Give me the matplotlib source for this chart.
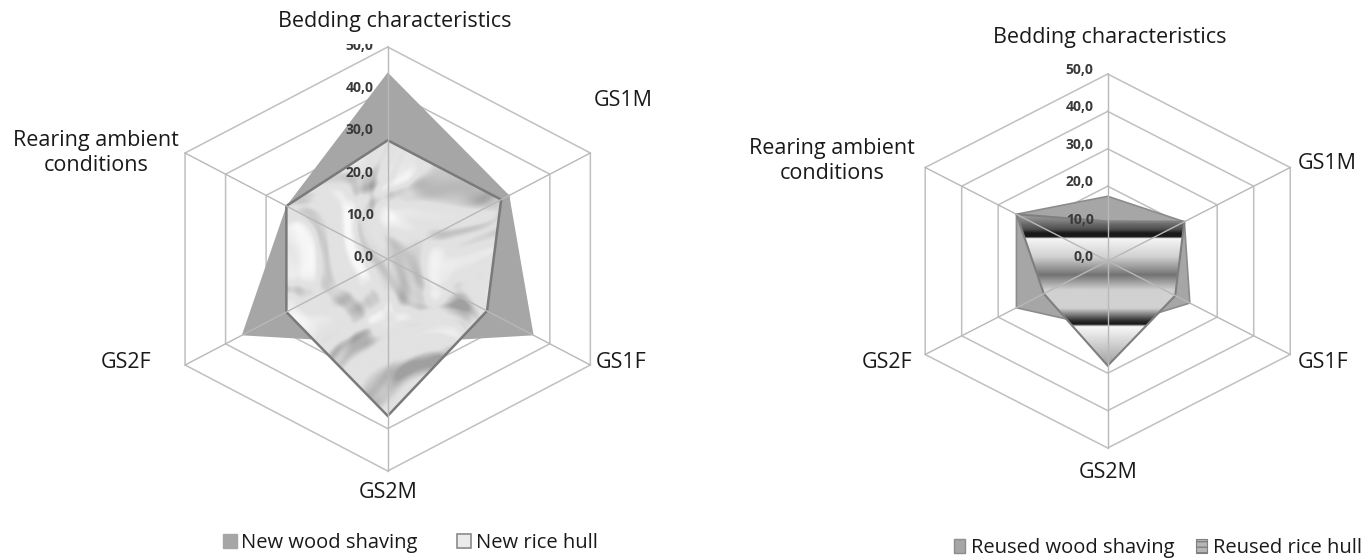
import numpy as np
import matplotlib
matplotlib.use("Agg")
import matplotlib.pyplot as plt
from matplotlib.patches import Polygon, Patch
from matplotlib.transforms import offset_copy

# ---------------- data ----------------
categories = ["Bedding characteristics", "GS1M", "GS1F", "GS2M", "GS2F",
              "Rearing ambient\nconditions"]
new_wood_shaving = [44.0, 30.0, 36.0, 20.0, 36.0, 25.0]
new_rice_hull = [28.0, 28.0, 24.5, 37.0, 25.0, 25.0]
reused_wood_shaving = [17.3, 21.0, 22.5, 18.0, 25.0, 25.0]
reused_rice_hull = [10.6, 21.0, 18.5, 28.0, 17.5, 25.0]
ring_values = [10, 20, 30, 40, 50]
tick_values = [0, 10, 20, 30, 40, 50]
tick_labels = ["0,0", "10,0", "20,0", "30,0", "40,0", "50,0"]
legend_left = ["New wood shaving", "New rice hull"]
legend_right = ["Reused wood shaving", "Reused rice hull"]

plt.rcParams["font.family"] = ["Open Sans", "DejaVu Sans"]

W, H = 1372, 560
fig = plt.figure(figsize=(W / 100, H / 100), dpi=100)

theta = np.deg2rad(np.arange(len(categories)) * 60.0)


def px(x, y):
    return x / W, 1 - y / H


def xy(vals):
    v = np.asarray(vals, dtype=float)
    return v * np.sin(theta), v * np.cos(theta)


def add_radar_axes(cx, cy, kx, ky, xr, ytop, ybot):
    left = cx - xr * kx
    width = 2 * xr * kx
    top = cy - ytop * ky
    bottom = cy + ybot * ky
    ax = fig.add_axes([left / W, 1 - bottom / H, width / W, (bottom - top) / H])
    ax.axis("off")
    return ax, (xr, ytop, ybot)


def draw_grid(ax):
    for r in ring_values:
        x, y = xy([r] * 6)
        ax.plot(np.append(x, x[0]), np.append(y, y[0]), color="#C0C0C0",
                lw=1.1, zorder=1, solid_joinstyle="miter")


def draw_spokes(ax):
    x, y = xy([50] * 6)
    for xi, yi in zip(x, y):
        ax.plot([0, xi], [0, yi], color="#B8B8B8", lw=1.0, zorder=6)


def draw_ticks(ax, dy):
    tr = offset_copy(ax.transData, fig=fig, x=-14, y=dy, units="dots")
    for v, lbl in zip(tick_values, tick_labels):
        t = ax.text(0, v, lbl, transform=tr, ha="right", va="center",
                    fontsize=10, fontweight="bold", color="#3A3A3A", zorder=8)
        t.set_clip_on(True)


def finish(ax, lims):
    xr, ytop, ybot = lims
    ax.set_xlim(-xr, xr)
    ax.set_ylim(-ybot, ytop)


def wave_sum(gx, gy, waves):
    out = np.zeros_like(gx)
    for kx_, ky_, ph, amp in waves:
        out += amp * np.sin(kx_ * gx + ky_ * gy + ph)
    return out


# ---------------- left chart ----------------
axL, limL = add_radar_axes(387.7, 259.0, 4.68, 4.24, 62, 50.6, 62)
draw_grid(axL)
x, y = xy(new_wood_shaving)
axL.fill(x, y, color="#A6A6A6", lw=0, zorder=2)

x, y = xy(new_rice_hull)
rice_poly = Polygon(np.column_stack([x, y]), closed=True, fill=False,
                    edgecolor="#7A7A7A", lw=1.8, zorder=5, joinstyle="miter")
axL.add_patch(rice_poly)
# deterministic cloudy marble texture via domain-warped wave sums
gx, gy = np.meshgrid(np.linspace(-50, 50, 600), np.linspace(-50, 50, 600))
warp_a = [(0.093, 0.141, 0.4, 1.0), (-0.177, 0.061, 2.1, 0.7), (0.231, -0.197, 4.0, 0.4)]
warp_b = [(0.133, -0.087, 1.3, 1.0), (0.071, 0.213, 3.3, 0.7), (-0.259, 0.171, 5.1, 0.4)]
wx = gx + 5.0 * wave_sum(gx, gy, warp_a)
wy = gy + 5.0 * wave_sum(gx, gy, warp_b)
detail = [(0.29, 0.17, 0.2, 1.0), (-0.13, 0.37, 1.9, 0.9), (0.47, -0.31, 3.7, 0.6),
          (0.61, 0.53, 0.8, 0.45), (-0.79, 0.43, 4.4, 0.35), (1.03, -0.67, 2.6, 0.25),
          (1.37, 1.11, 5.6, 0.15)]
n = wave_sum(wx, wy, detail)
n = (n - n.min()) / (n.max() - n.min())
cloud = np.clip((n - 0.5) / 0.35, 0, 1) ** 1.2
light = np.clip((0.35 - n) / 0.3, 0, 1)
tex = 0.885 - 0.26 * cloud + 0.09 * light
im = axL.imshow(tex, extent=[-50, 50, -50, 50], origin="lower", cmap="gray",
                vmin=0, vmax=1, aspect="auto", interpolation="bicubic", zorder=3)
im.set_clip_path(rice_poly)
draw_spokes(axL)
draw_ticks(axL, 1.5)
finish(axL, limL)

# ---------------- right chart ----------------
axR, limR = add_radar_axes(1107.7, 261.0, 4.215, 3.74, 62, 55, 62)
draw_grid(axR)
x, y = xy(reused_wood_shaving)
axR.fill(x, y, facecolor="#A6A6A6", edgecolor="#8C8C8C", lw=1.2, zorder=2)

x, y = xy(reused_rice_hull)
rr_poly = Polygon(np.column_stack([x, y]), closed=True, fill=False,
                  edgecolor="#7F7F7F", lw=1.5, zorder=5, joinstyle="miter")
axR.add_patch(rr_poly)
ymin, ymax = y.min(), y.max()
stops = [(0.00, 0.65), (0.10, 0.30), (0.125, 0.10), (0.15, 0.10), (0.16, 0.96),
         (0.28, 0.82), (0.40, 0.45), (0.50, 0.82), (0.62, 0.82), (0.70, 0.20),
         (0.725, 0.08), (0.74, 0.97), (1.00, 0.62)]
N = 600
frac_top = 1 - np.linspace(0, 1, N)
grad = np.interp(frac_top, [s[0] for s in stops], [s[1] for s in stops])
gimg = np.tile(grad[:, None], (1, 4))
im2 = axR.imshow(gimg, extent=[-50, 50, ymin, ymax], origin="lower", cmap="gray",
                 vmin=0, vmax=1, aspect="auto", interpolation="bilinear", zorder=3)
im2.set_clip_path(rr_poly)
draw_spokes(axR)
draw_ticks(axR, 4)
finish(axR, limR)

# ---------------- category labels ----------------
fs = 15.5
txt = dict(fontsize=fs, color="#1A1A1A")
# left chart
fig.text(*px(395, 21), categories[0], ha="center", va="center", **txt)
fig.text(*px(594, 100), categories[1], ha="left", va="center", **txt)
fig.text(*px(596, 362), categories[2], ha="left", va="center", **txt)
fig.text(*px(388, 492), categories[3], ha="center", va="center", **txt)
fig.text(*px(151, 362), categories[4], ha="right", va="center", **txt)
fig.text(*px(96, 153), categories[5], ha="center", va="center",
         linespacing=1.25, **txt)
# right chart
fig.text(*px(1110, 37), categories[0], ha="center", va="center", **txt)
fig.text(*px(1298, 163), categories[1], ha="left", va="center", **txt)
fig.text(*px(1298, 362), categories[2], ha="left", va="center", **txt)
fig.text(*px(1108, 473), categories[3], ha="center", va="center", **txt)
fig.text(*px(912, 363), categories[4], ha="right", va="center", **txt)
fig.text(*px(832, 161), categories[5], ha="center", va="center",
         linespacing=1.25, **txt)

# ---------------- legends ----------------
hL = [Patch(facecolor="#A6A6A6", edgecolor="#A6A6A6"),
      Patch(facecolor="#EBEBEB", edgecolor="#8A8A8A", lw=1.2)]
fig.legend(hL, legend_left, loc="center", bbox_to_anchor=px(410, 543), ncol=2,
           frameon=False, fontsize=14.5, handlelength=0.7, handleheight=0.7,
           handletextpad=0.2, columnspacing=2.0, labelcolor="#1A1A1A")
hR = [Patch(facecolor="#A6A6A6", edgecolor="#8C8C8C"),
      Patch(facecolor="#B5B5B5", edgecolor="#7F7F7F", hatch="---", lw=0.8)]
fig.legend(hR, legend_right, loc="center", bbox_to_anchor=px(1158, 548), ncol=2,
           frameon=False, fontsize=14.5, handlelength=0.55, handleheight=0.7,
           handletextpad=0.3, columnspacing=1.1, labelcolor="#1A1A1A")

fig.savefig("out.png", dpi=100, facecolor="white")
